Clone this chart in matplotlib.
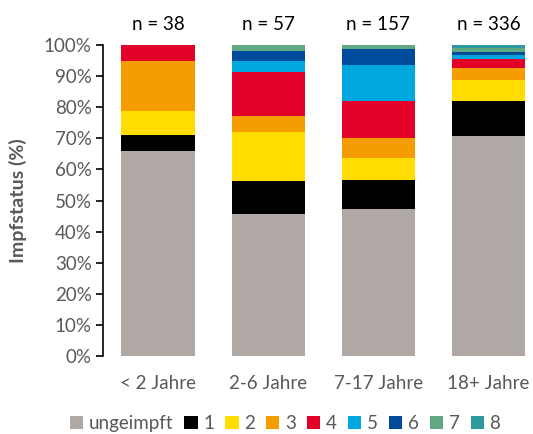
import matplotlib.pyplot as plt
import numpy as np

plt.rcParams['font.family'] = ['Lato', 'DejaVu Sans']

groups = ["< 2 Jahre", "2-6 Jahre", "7-17 Jahre", "18+ Jahre"]
n_total = [38, 57, 157, 336]
status = ["ungeimpft", "1", "2", "3", "4", "5", "6", "7", "8"]

# number of persons per vaccination status, one list per age group
counts = {
    "< 2 Jahre":  [25, 2, 3, 6, 2, 0, 0, 0, 0],
    "2-6 Jahre":  [26, 6, 9, 3, 8, 2, 2, 1, 0],
    "7-17 Jahre": [74, 15, 11, 10, 19, 18, 8, 2, 0],
    "18+ Jahre":  [238, 38, 22, 13, 10, 4, 4, 4, 3],
}

colors = ["#afa8a5", "#000000", "#ffdd00", "#f59c00", "#e30029",
          "#00a8df", "#004b9b", "#5fa882", "#2e9a9f"]

grey = "#595959"
fs = 13.5

fig = plt.figure(figsize=(5.33, 4.34), dpi=100)
ax = fig.add_axes([0.193, 0.180, 0.827, 0.716])

data = np.array([counts[g] for g in groups], dtype=float)
pct = data / np.array(n_total)[:, None] * 100
x = np.arange(len(groups))
bottom = np.zeros(len(groups))
for j, s in enumerate(status):
    ax.bar(x, pct[:, j], bottom=bottom, width=0.665, color=colors[j],
           label=s, edgecolor="none")
    bottom += pct[:, j]

for i, n in enumerate(n_total):
    ax.text(x[i], 104.0, f"n = {n}", ha="center", va="bottom",
            fontsize=fs, color="black")

ax.set_xlim(-0.5, 3.5)
ax.set_ylim(0, 100)
ax.set_yticks(np.arange(0, 101, 10))
ax.set_yticklabels([f"{v}%" for v in range(0, 101, 10)])
ax.set_xticks(x)
ax.set_xticklabels(groups)
ax.tick_params(axis="y", direction="out", length=5, width=1.2, color="black",
               labelcolor=grey, labelsize=fs, pad=3)
ax.tick_params(axis="x", length=0, labelsize=fs, labelcolor=grey, pad=14)
for side in ["top", "right", "bottom"]:
    ax.spines[side].set_visible(False)
ax.spines["left"].set_linewidth(1.2)
ax.set_ylabel("Impfstatus (%)", fontsize=14, fontweight="bold",
              color=grey, labelpad=12)

fig.legend(loc="lower center", bbox_to_anchor=(0.535, -0.035), ncol=9,
           frameon=False, fontsize=fs, handlelength=0.7,
           handleheight=0.7, handletextpad=0.3, columnspacing=0.6,
           labelcolor=grey)

fig.savefig("out.png", dpi=100)
